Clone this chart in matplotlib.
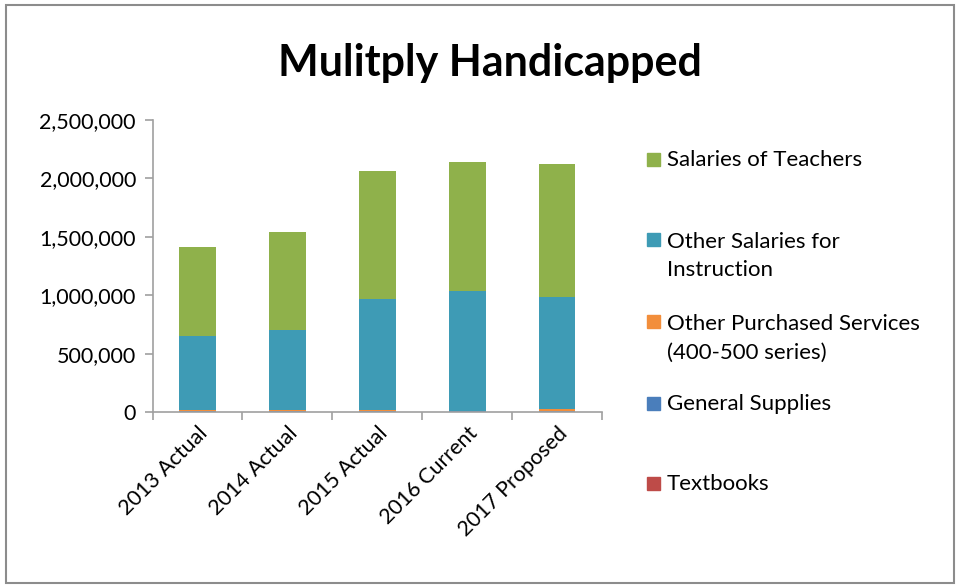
import matplotlib
matplotlib.use("Agg")
import matplotlib.pyplot as plt
from matplotlib.patches import Rectangle
from matplotlib.ticker import FuncFormatter
import numpy as np

plt.rcParams['font.family'] = ['Lato', 'DejaVu Sans']

years = ['2013 Actual', '2014 Actual', '2015 Actual', '2016 Current', '2017 Proposed']
textbooks = [3000, 3000, 3000, 2000, 3000]
general_supplies = [6000, 6000, 6000, 8000, 6000]
purchased_services = [12000, 12000, 12000, 0, 16000]
other_salaries = [630000, 680000, 945000, 1026000, 960000]
teacher_salaries = [762000, 840000, 1097000, 1104000, 1138000]

series = [
    ('Textbooks', textbooks, '#BE4B48'),
    ('General Supplies', general_supplies, '#4A7EBB'),
    ('Other Purchased Services\n(400-500 series)', purchased_services, '#F28E3B'),
    ('Other Salaries for\nInstruction', other_salaries, '#3E9BB5'),
    ('Salaries of Teachers', teacher_salaries, '#8FB14B'),
]

fig = plt.figure(figsize=(9.6, 5.88), dpi=100)
ax = fig.add_axes([0.159, 0.299, 0.468, 0.497])

x = np.arange(len(years))
bottom = np.zeros(len(years))
handles = {}
for name, vals, col in series:
    b = ax.bar(x, vals, 0.41, bottom=bottom, color=col, linewidth=0)
    handles[name] = b
    bottom += np.array(vals)

ax.set_xlim(-0.5, len(years) - 0.5)
ax.set_ylim(0, 2500000)
ax.set_yticks(np.arange(0, 2500001, 500000))
ax.yaxis.set_major_formatter(FuncFormatter(lambda v, p: f'{int(v):,}'))
ax.set_xticks(x)
ax.set_xticklabels(years, rotation=45, ha='right', rotation_mode='anchor')
ax.set_xticks(np.arange(-0.5, len(years)), minor=True)
ax.tick_params(axis='x', which='major', length=0, labelsize=15.5, pad=8, colors='#000000')
ax.tick_params(axis='x', which='minor', length=6, color='#A0A0A0', width=1.2)
ax.tick_params(axis='y', length=6, color='#A0A0A0', width=1.2, labelsize=15.5, pad=6)
for s in ['top', 'right']:
    ax.spines[s].set_visible(False)
for s in ['left', 'bottom']:
    ax.spines[s].set_color('#A0A0A0')
    ax.spines[s].set_linewidth(1.2)

fig.text(0.51, 0.893, 'Mulitply Handicapped', ha='center', va='center',
         fontsize=31, fontweight='bold')

# legend entries, placed like the original
legend_pos = [
    ('Salaries of Teachers', 160),
    ('Other Salaries for\nInstruction', 256),
    ('Other Purchased Services\n(400-500 series)', 338),
    ('General Supplies', 404),
    ('Textbooks', 484),
]
for name, ypix in legend_pos:
    col = handles[name].patches[0].get_facecolor()
    nlines = name.count('\n') + 1
    first_y = ypix - (nlines - 1) * 16
    fig.patches.append(Rectangle((647 / 960, 1 - (first_y + 6) / 588), 13 / 960, 13 / 588,
                                 transform=fig.transFigure, color=col))
    fig.text(667 / 960, 1 - ypix / 588, name, ha='left', va='center',
             fontsize=16, linespacing=1.55)

fig.patches.append(Rectangle((0.006, 0.008), 0.988, 0.984, transform=fig.transFigure,
                             fill=False, edgecolor='#8C8C8C', linewidth=1.5))

fig.savefig('out.png', dpi=100)
